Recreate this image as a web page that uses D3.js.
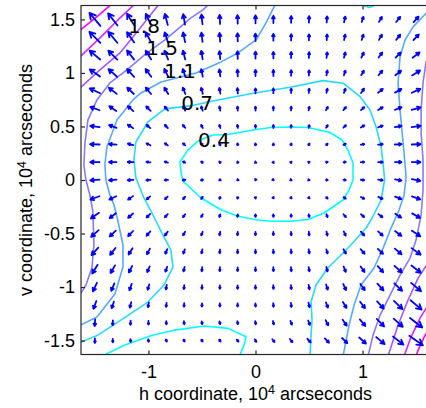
<!DOCTYPE html>
<html>
<head>
<meta charset="utf-8">
<script src="https://cdn.jsdelivr.net/npm/d3@7"></script>
<style>
  body { margin: 0; background: #fff; }
  svg { display: block; }
</style>
</head>
<body>
<svg id="chart"></svg>
<script>
// set up constants
const width = 426;
const height = 408;
const plot = { left: 81, top: 5.5, size: 349 };

// grid of arrow positions (10^4 arcseconds)
const gridX = [-1.5, -1.333, -1.167, -1, -0.833, -0.667, -0.5, -0.333, -0.167, 0,
  0.167, 0.333, 0.5, 0.667, 0.833, 1, 1.167, 1.333, 1.5];
const gridY = [1.5, 1.333, 1.167, 1, 0.833, 0.667, 0.5, 0.333, 0.167, 0,
  -0.167, -0.333, -0.5, -0.667, -0.833, -1, -1.167, -1.333, -1.5];

// arrow direction, degrees (0 = +h, 90 = +v), rows top to bottom
const arrowAngle = [
  [130,128,122,115,105,100,96,93,92, 90,90,89,88,86,78,72,60,52,48],
  [135,130,125,118,108,102,97,94,92, 90,90,89,88,86,78,72,60,52,46],
  [140,135,128,122,112,105,99,95,92, 90,90,89,87,82,75,65,55,45,38],
  [145,138,132,126,117,108,102,97,93, 90,90,89,86,80,72,60,50,38,32],
  [155,142,136,130,122,112,105,99,94, 90,90,88,85,78,70,55,40,30,25],
  [160,145,138,135,130,118,110,100,95, 92,90,88,78,60,50,45,32,22,15],
  [172,160,148,140,135,130,120,110,100, 95,90,85,75,55,45,30,20,10,8],
  [178,175,165,155,145,140,130,118,105, 100,85,70,55,45,25,10,5,3,2],
  [181,180,178,172,165,155,145,130,110, 100,60,40,25,15,8,3,0,0,0],
  [185,185,184,184,186,190,195,205,220, 250,320,335,342,348,350,352,352,350,348],
  [200,205,215,220,225,228,235,245,255, 280,300,310,315,318,325,330,335,338,340],
  [215,218,222,225,228,232,240,250,260, 270,272,275,280,292,310,318,322,326,330],
  [222,224,226,229,233,240,248,258,265, 270,271,273,276,282,295,310,318,322,326],
  [228,232,238,242,246,250,258,265,268, 270,272,274,278,287,298,310,316,320,324],
  [238,240,243,246,250,258,264,268,270, 270,272,275,279,284,292,305,312,318,322],
  [245,247,250,254,260,265,268,270,270, 271,272,275,280,288,295,305,312,316,320],
  [250,252,256,260,264,267,269,270,271, 272,274,277,282,290,300,307,312,316,320],
  [266,267,268,270,272,275,280,285,280, 278,285,290,292,296,305,310,314,318,322],
  [270,272,275,282,292,300,305,308,310, 305,308,310,312,314,316,318,320,322,325]
];

// arrow magnitude, rows top to bottom
const arrowMagnitude = [
  [2.52,2.27,2.0,1.8,1.69,1.56,1.45,1.35,1.25, 1.16,1.07,1.0,0.95,0.9,0.86,0.8,0.85,0.95,1.08],
  [2.3,2.1,1.85,1.72,1.53,1.45,1.36,1.27,1.18, 1.1,1.0,0.93,0.88,0.85,0.82,0.82,0.88,0.98,1.15],
  [2.05,1.88,1.7,1.52,1.42,1.33,1.25,1.17,1.12, 1.03,0.96,0.9,0.85,0.82,0.8,0.82,0.92,1.08,1.3],
  [1.86,1.7,1.55,1.42,1.32,1.22,1.12,1.05,0.98, 0.92,0.87,0.82,0.77,0.73,0.73,0.78,0.88,1.08,1.38],
  [1.68,1.47,1.35,1.22,1.1,1.0,0.93,0.85,0.78, 0.73,0.69,0.66,0.64,0.63,0.66,0.78,0.9,1.08,1.38],
  [1.45,1.26,1.1,0.93,0.75,0.68,0.66,0.63,0.6, 0.58,0.55,0.54,0.54,0.56,0.6,0.66,0.8,1.05,1.35],
  [1.4,1.18,0.95,0.74,0.64,0.56,0.5,0.47,0.45, 0.43,0.42,0.41,0.41,0.44,0.52,0.6,0.72,1.0,1.33],
  [1.4,1.12,0.85,0.65,0.55,0.45,0.38,0.33,0.3, 0.28,0.27,0.27,0.28,0.3,0.38,0.52,0.69,0.98,1.3],
  [1.38,1.1,0.83,0.6,0.5,0.38,0.3,0.24,0.2, 0.18,0.17,0.18,0.2,0.26,0.33,0.5,0.68,0.97,1.28],
  [1.38,1.1,0.85,0.62,0.5,0.4,0.3,0.22,0.17, 0.14,0.13,0.15,0.18,0.24,0.34,0.5,0.68,0.95,1.28],
  [1.42,1.12,0.9,0.67,0.56,0.46,0.38,0.3,0.24, 0.2,0.18,0.19,0.22,0.3,0.4,0.56,0.7,1.0,1.3],
  [1.45,1.17,0.97,0.76,0.64,0.55,0.48,0.42,0.39, 0.37,0.36,0.37,0.39,0.46,0.55,0.63,0.75,1.05,1.35],
  [1.48,1.25,1.04,0.86,0.71,0.62,0.57,0.53,0.5, 0.49,0.49,0.51,0.55,0.6,0.67,0.75,0.92,1.18,1.5],
  [1.5,1.3,1.08,0.92,0.75,0.66,0.6,0.56,0.54, 0.54,0.55,0.57,0.6,0.64,0.72,0.9,1.05,1.3,1.65],
  [1.52,1.3,1.07,0.92,0.76,0.68,0.62,0.58,0.56, 0.56,0.58,0.6,0.64,0.69,0.85,1.0,1.2,1.47,1.75],
  [1.4,1.2,1.0,0.82,0.68,0.6,0.55,0.52,0.51, 0.52,0.55,0.6,0.67,0.8,0.98,1.12,1.35,1.6,1.92],
  [1.25,1.02,0.83,0.67,0.58,0.52,0.48,0.47,0.47, 0.49,0.53,0.6,0.68,0.82,1.02,1.2,1.45,1.75,2.15],
  [0.98,0.72,0.62,0.55,0.48,0.44,0.42,0.41,0.43, 0.47,0.52,0.6,0.7,0.85,1.05,1.27,1.55,1.8,2.3],
  [0.68,0.52,0.42,0.36,0.33,0.32,0.33,0.35,0.38, 0.45,0.52,0.6,0.72,0.88,1.1,1.35,1.62,1.95,2.45]
];

// contour lines, [h, v] pairs
const contour04Center = [[-0.397,0.421],[-0.257,0.425],[-0.023,0.467],[0.145,0.491],[0.322,0.495],
  [0.491,0.491],[0.696,0.444],[0.808,0.374],[0.864,0.28],[0.911,0.159],[0.911,0],[0.874,-0.093],
  [0.818,-0.187],[0.64,-0.308],[0.491,-0.369],[0.332,-0.386],[0.145,-0.386],[0.005,-0.371],
  [-0.164,-0.339],[-0.322,-0.278],[-0.509,-0.168],[-0.678,-0.009],[-0.696,0.075],[-0.706,0.168],
  [-0.631,0.28],[-0.537,0.364],[-0.397,0.421]];
const contour04Bottom = [[-1.435,-1.645],[-1.22,-1.542],[-0.977,-1.455],[-0.752,-1.402],[-0.481,-1.364],
  [-0.257,-1.386],[-0.089,-1.464],[-0.107,-1.542],[-0.15,-1.645]];
const contour07 = [[-1.65,-1.523],[-1.472,-1.449],[-1.229,-1.29],[-1.005,-1.14],[-0.855,-0.981],
  [-0.771,-0.813],[-0.79,-0.654],[-0.864,-0.514],[-0.958,-0.327],[-1.042,-0.168],[-1.117,0.019],
  [-1.136,0.187],[-1.117,0.355],[-1.005,0.542],[-0.846,0.664],[-0.612,0.692],[-0.397,0.738],
  [-0.023,0.81],[0.322,0.866],[0.631,0.928],[0.818,0.904],[0.977,0.779],[1.07,0.654],[1.126,0.498],
  [1.173,0.311],[1.192,0.156],[1.206,0],[1.173,-0.187],[1.089,-0.355],[1.033,-0.449],[0.893,-0.605],
  [0.79,-0.71],[0.675,-0.822],[0.565,-0.981],[0.519,-1.137],[0.528,-1.308],[0.519,-1.449],[0.509,-1.645]];
const contour07Top = [[0.977,1.645],[1.061,1.612],[1.145,1.645]];
const contour11Left = [[0.192,1.654],[0.098,1.467],[0.005,1.308],[-0.164,1.187],[-0.322,1.103],
  [-0.556,1.0],[-0.883,0.916],[-1.07,0.813],[-1.145,0.748],[-1.294,0.561],[-1.388,0.308],
  [-1.407,0.14],[-1.397,0],[-1.36,-0.14],[-1.322,-0.234],[-1.285,-0.383],[-1.238,-0.607],
  [-1.238,-0.813],[-1.313,-1.065],[-1.481,-1.28],[-1.65,-1.364]];
const contour11Right = [[1.659,1.626],[1.472,1.43],[1.397,1.308],[1.35,1.15],[1.332,0.907],
  [1.35,0.654],[1.379,0.346],[1.407,0.028],[1.388,-0.14],[1.341,-0.28],[1.266,-0.449],
  [1.192,-0.636],[1.107,-0.822],[0.986,-0.981],[0.921,-1.168],[0.874,-1.355],[0.818,-1.645]];
const contour15Left = [[-0.425,1.654],[-0.491,1.589],[-0.603,1.514],[-0.734,1.402],[-0.846,1.308],
  [-1.014,1.187],[-1.201,1.028],[-1.36,0.907],[-1.481,0.748],[-1.565,0.561],[-1.593,0.346],
  [-1.603,0.14],[-1.584,0],[-1.547,-0.14],[-1.519,-0.29],[-1.509,-0.607],[-1.528,-0.822],
  [-1.584,-0.981],[-1.659,-1.103]];
const contour15Right = [[1.659,1.215],[1.593,1.103],[1.565,0.907],[1.547,0.654],[1.547,0.439],
  [1.565,0.187],[1.565,-0.093],[1.547,-0.327],[1.5,-0.561],[1.444,-0.729],[1.35,-0.888],
  [1.257,-1.075],[1.164,-1.262],[1.098,-1.449],[1.051,-1.645]];
const contour18Left = [[-1.659,0.841],[-1.453,1.028],[-1.266,1.187],[-1.145,1.336],[-1.033,1.477],
  [-0.967,1.561],[-0.893,1.654]];
const contour18Right = [[1.659,-0.701],[1.519,-0.916],[1.425,-1.121],[1.332,-1.355],[1.238,-1.645]];
const contour22Left = [[-1.659,1.131],[-1.453,1.327],[-1.285,1.495],[-1.117,1.654]];
const contour22Right = [[1.659,-1.093],[1.537,-1.29],[1.453,-1.467],[1.388,-1.645]];
const contour25Left = [[-1.659,1.383],[-1.472,1.533],[-1.332,1.654]];
const contour25Right = [[1.659,-1.327],[1.575,-1.467],[1.519,-1.589],[1.5,-1.645]];

// contour labels
const labelText = ['1.8', '1.5', '1.1', '0.7', '0.4'];
const labelH = [-1.19, -1.021, -0.853, -0.694, -0.536];
const labelV = [1.374, 1.168, 0.953, 0.654, 0.308];

// ticks
const xTicks = [-1, 0, 1];
const yTicks = [-1.5, -1, -0.5, 0, 0.5, 1, 1.5];

const contourTable = [
  { level: 0.4, pts: contour04Center }, { level: 0.4, pts: contour04Bottom },
  { level: 0.7, pts: contour07 }, { level: 0.7, pts: contour07Top },
  { level: 1.1, pts: contour11Left }, { level: 1.1, pts: contour11Right },
  { level: 1.5, pts: contour15Left }, { level: 1.5, pts: contour15Right },
  { level: 1.8, pts: contour18Left }, { level: 1.8, pts: contour18Right },
  { level: 2.2, pts: contour22Left }, { level: 2.2, pts: contour22Right },
  { level: 2.5, pts: contour25Left }, { level: 2.5, pts: contour25Right }
];

// create SVG element
const svg = d3.select('#chart')
  .attr('width', width)
  .attr('height', height)
  .style('font-family', "'Liberation Sans', Arial, sans-serif");

// create scales
const xScale = d3.scaleLinear()
  .domain([-1.63, 1.63])
  .range([plot.left, plot.left + plot.size]);

const yScale = d3.scaleLinear()
  .domain([-1.63, 1.63])
  .range([plot.top + plot.size, plot.top]);

const colour = d3.scaleLinear()
  .domain([0.4, 2.5])
  .range(['#00ffff', '#ff00ff']);

svg.append('clipPath')
  .attr('id', 'plot-clip')
  .append('rect')
  .attr('x', plot.left)
  .attr('y', plot.top)
  .attr('width', plot.size)
  .attr('height', plot.size);

const inner = svg.append('g').attr('clip-path', 'url(#plot-clip)');

// contour lines
const line = d3.line()
  .x(d => xScale(d[0]))
  .y(d => yScale(d[1]));

inner.selectAll('path.contour')
  .data(contourTable)
  .enter()
  .append('path')
  .attr('class', 'contour')
  .attr('d', d => line(d.pts))
  .attr('fill', 'none')
  .attr('stroke', d => colour(d.level))
  .attr('stroke-width', 1.6)
  .attr('stroke-linejoin', 'round');

// quiver arrows
const arrowScale = 0.063;
const arrows = [];
gridY.forEach((gy, i) => {
  gridX.forEach((gx, j) => {
    const a = arrowAngle[i][j] * Math.PI / 180;
    const m = arrowMagnitude[i][j] * arrowScale;
    arrows.push({ x: gx, y: gy, u: m * Math.cos(a), v: m * Math.sin(a) });
  });
});

function arrowPath(d) {
  const x0 = xScale(d.x - d.u / 2), y0 = yScale(d.y - d.v / 2);
  const x1 = xScale(d.x + d.u / 2), y1 = yScale(d.y + d.v / 2);
  const len = Math.hypot(x1 - x0, y1 - y0);
  if (len < 0.6) return `M${x1},${y1}L${x1 + 0.01},${y1}`;
  const ang = Math.atan2(y1 - y0, x1 - x0);
  const h = Math.max(len * 0.4, 1.5);
  const spread = 0.5;
  const hx1 = x1 - h * Math.cos(ang - spread), hy1 = y1 - h * Math.sin(ang - spread);
  const hx2 = x1 - h * Math.cos(ang + spread), hy2 = y1 - h * Math.sin(ang + spread);
  return `M${x0},${y0}L${x1},${y1}M${hx1},${hy1}L${x1},${y1}L${hx2},${hy2}`;
}

inner.selectAll('path.arrow')
  .data(arrows)
  .enter()
  .append('path')
  .attr('class', 'arrow')
  .attr('d', arrowPath)
  .attr('fill', 'none')
  .attr('stroke', '#0000ff')
  .attr('stroke-width', 1.8)
  .attr('stroke-linecap', 'round')
  .attr('stroke-linejoin', 'round');

// contour labels
svg.selectAll('text.clabel')
  .data(labelText)
  .enter()
  .append('text')
  .attr('class', 'clabel')
  .attr('x', (d, i) => xScale(labelH[i]))
  .attr('y', (d, i) => yScale(labelV[i]))
  .attr('font-family', "'DejaVu Sans', sans-serif")
  .attr('font-size', 20)
  .attr('fill', '#000')
  .text(d => d);

// axes (ticks point inwards)
const xAxis = d3.axisBottom(xScale)
  .tickValues(xTicks)
  .tickSizeInner(-4)
  .tickSizeOuter(0)
  .tickPadding(11)
  .tickFormat(d => String(d));

const xAxisTop = d3.axisTop(xScale)
  .tickValues(xTicks)
  .tickSizeInner(-4)
  .tickSizeOuter(0)
  .tickFormat('');

const yAxis = d3.axisLeft(yScale)
  .tickValues(yTicks)
  .tickSizeInner(-4)
  .tickSizeOuter(0)
  .tickPadding(6)
  .tickFormat(d => String(d));

const gx = svg.append('g')
  .attr('transform', `translate(0, ${plot.top + plot.size})`)
  .call(xAxis);
const gxt = svg.append('g')
  .attr('transform', `translate(0, ${plot.top})`)
  .call(xAxisTop);
const gy = svg.append('g')
  .attr('transform', `translate(${plot.left}, 0)`)
  .call(yAxis);

[gx, gxt, gy].forEach(g => {
  g.select('.domain').remove();
  g.selectAll('line').attr('stroke', '#262626').attr('stroke-width', 1.2);
  g.selectAll('text')
    .attr('fill', '#000')
    .style('font-family', "'Liberation Sans', Arial, sans-serif")
    .style('font-size', '18px');
});

// box round the plot
svg.append('rect')
  .attr('x', plot.left)
  .attr('y', plot.top)
  .attr('width', plot.size)
  .attr('height', plot.size)
  .attr('fill', 'none')
  .attr('stroke', '#262626')
  .attr('stroke-width', 1.2);

// axis titles
const xTitle = svg.append('text')
  .attr('x', plot.left + plot.size / 2)
  .attr('y', 400)
  .attr('text-anchor', 'middle')
  .attr('font-size', 18)
  .attr('fill', '#000');
xTitle.append('tspan').text('h coordinate, 10');
xTitle.append('tspan').attr('dy', -6).attr('font-size', 12.5).text('4');
xTitle.append('tspan').attr('dy', 6).text(' arcseconds');

const yTitle = svg.append('text')
  .attr('transform', `translate(32, ${plot.top + plot.size / 2}) rotate(-90)`)
  .attr('text-anchor', 'middle')
  .attr('font-size', 18)
  .attr('fill', '#000');
yTitle.append('tspan').text('v coordinate, 10');
yTitle.append('tspan').attr('dy', -6).attr('font-size', 12.5).text('4');
yTitle.append('tspan').attr('dy', 6).text(' arcseconds');
</script>
</body>
</html>
